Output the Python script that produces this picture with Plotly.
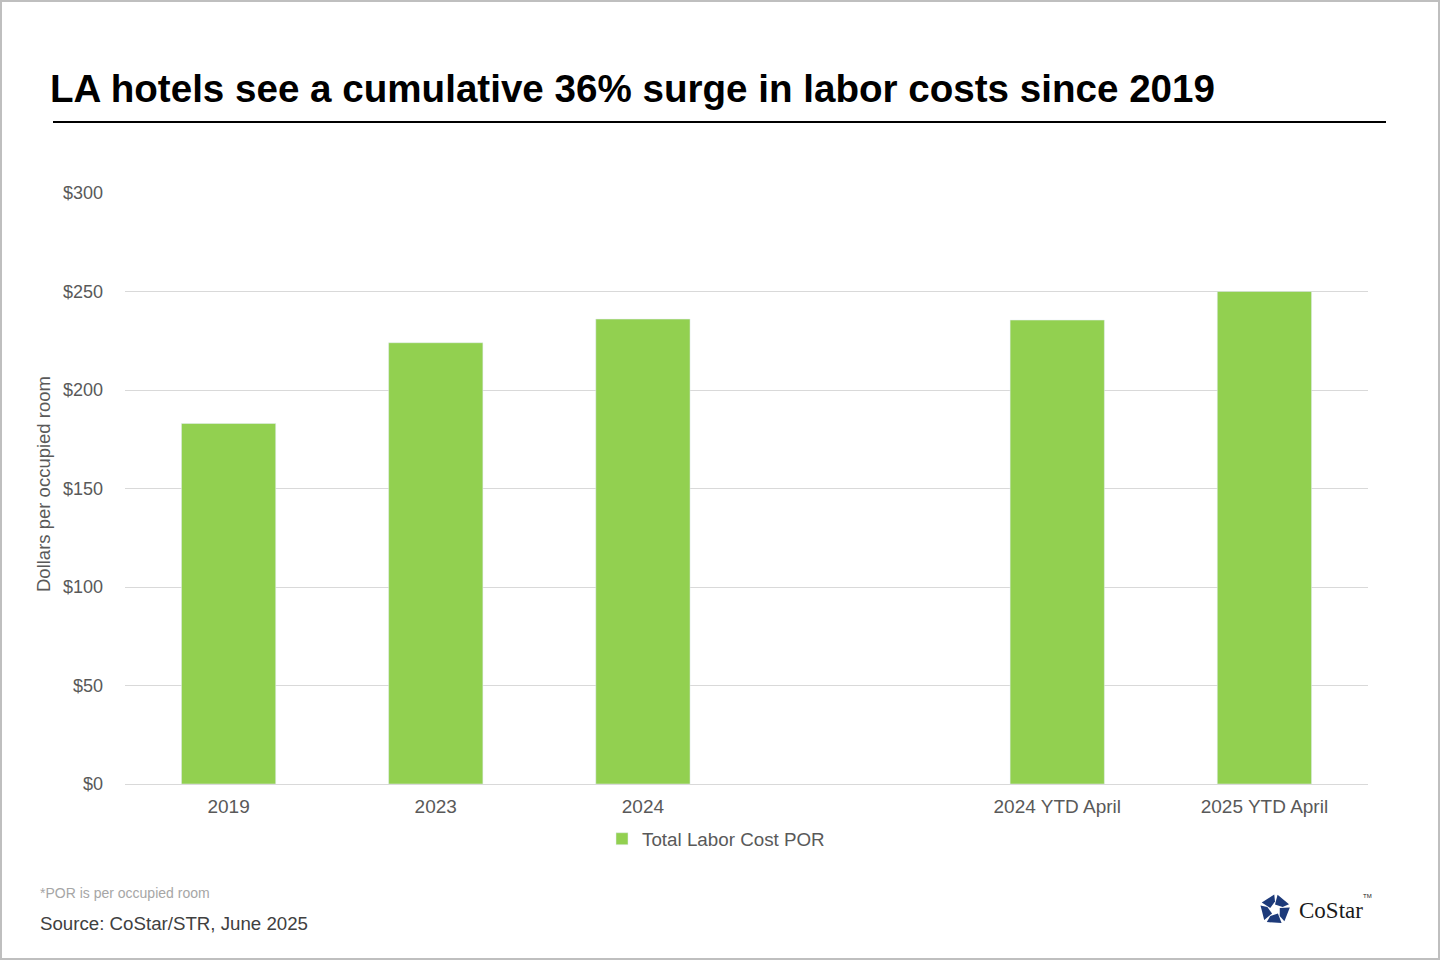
"""LA hotel labor cost chart."""
import math

import plotly.graph_objects as go

categories = ["2019", "2023", "2024", " ", "2024 YTD April", "2025 YTD April"]
labor_cost_por = [183, 224, 236, None, 235.5, 250]
y_ticks = [0, 50, 100, 150, 200, 250, 300]
y_tick_text = ["$0", "$50", "$100", "$150", "$200", "$250", "$300"]

W, H = 1440, 960
L, R, T, B = 125, 72, 193, 176
PW, PH = W - L - R, H - T - B
FONT = "Liberation Sans, Arial, sans-serif"


def px_x(p):
    return (p - L) / PW


def px_y(p):
    return (H - B - p) / PH


fig = go.Figure()
fig.add_trace(
    go.Bar(
        x=categories,
        y=labor_cost_por,
        name="Total Labor Cost POR",
        marker_color="#92d050",
        width=0.455,
    )
)

shapes = [
    # outer border
    dict(type="rect", xref="paper", yref="paper",
         x0=px_x(1), x1=px_x(W - 1), y0=px_y(1), y1=px_y(H - 1),
         line=dict(color="#bfbfbf", width=2), layer="below"),
    # title rule
    dict(type="line", xref="paper", yref="paper",
         x0=px_x(53), x1=px_x(1386), y0=px_y(122), y1=px_y(122),
         line=dict(color="black", width=2)),
]

# CoStar pinwheel mark
cx, cy, r_in, r_out = 1275, 909.5, 5, 15
for k in range(5):
    a = math.radians(-90 + 72 * k)
    b = math.radians(-90 + 72 * (k + 1))
    c = math.radians(-90 + 72 * k + 30)
    pts = [
        (cx + r_in * math.cos(a), cy + r_in * math.sin(a)),
        (cx + r_out * math.cos(c - 0.35), cy + r_out * math.sin(c - 0.35)),
        (cx + r_out * math.cos(b - 0.05), cy + r_out * math.sin(b - 0.05)),
        (cx + r_in * 1.6 * math.cos(b), cy + r_in * 1.6 * math.sin(b)),
    ]
    path = "M " + " L ".join(f"{px_x(x):.5f},{px_y(y):.5f}" for x, y in pts) + " Z"
    shapes.append(dict(type="path", xref="paper", yref="paper", path=path,
                       fillcolor="#1d3a7a", line=dict(width=0)))


def note(text, x, y, size, color, xanchor="left", family=FONT, **kw):
    return dict(text=text, xref="paper", yref="paper", x=px_x(x), y=px_y(y),
                xanchor=xanchor, yanchor="middle", showarrow=False,
                font=dict(size=size, color=color, family=family), **kw)


annotations = [
    note("<b>LA hotels see a cumulative 36% surge in labor costs since 2019</b>",
         48, 88, 38.6, "black"),
    note("Dollars per occupied room", 43, 484, 18.5, "#595959",
         xanchor="center", textangle=-90),
    note("*POR is per occupied room", 38, 893, 14, "#a6a6a6"),
    note("Source: CoStar/STR, June 2025", 38, 923, 18.7, "#404040"),
    note("CoStar", 1297, 910, 23, "#1a1a1a",
         family="Liberation Serif, Times New Roman, serif"),
    note("TM", 1361, 896, 6, "#1a1a1a"),
]

fig.update_layout(
    width=W,
    height=H,
    margin=dict(l=L, r=R, t=T, b=B),
    paper_bgcolor="white",
    plot_bgcolor="white",
    font=dict(family=FONT, color="#595959", size=18),
    showlegend=True,
    legend=dict(orientation="h", x=px_x(716), y=px_y(839),
                xanchor="center", yanchor="middle", itemwidth=30,
                font=dict(size=18.8, color="#595959")),
    shapes=shapes,
    annotations=annotations,
    bargap=0.545,
)
fig.update_xaxes(
    type="category",
    categoryorder="array",
    categoryarray=categories,
    tickvals=[c for c in categories if c.strip()],
    showline=True,
    linecolor="#d9d9d9",
    linewidth=1,
    ticks="",
    ticklabelstandoff=5,
    tickfont=dict(size=19, color="#595959"),
    fixedrange=True,
)
fig.update_yaxes(
    range=[0, 300],
    tickvals=y_ticks,
    ticktext=y_tick_text,
    showgrid=True,
    gridcolor="#d9d9d9",
    gridwidth=1,
    zeroline=False,
    ticks="",
    ticklabelstandoff=21,
    tickfont=dict(size=18, color="#595959"),
    fixedrange=True,
)

fig.write_html(
    "out.html",
    config={"displayModeBar": False},
    post_script="document.body.style.margin='0';document.body.style.overflow='hidden';",
)
